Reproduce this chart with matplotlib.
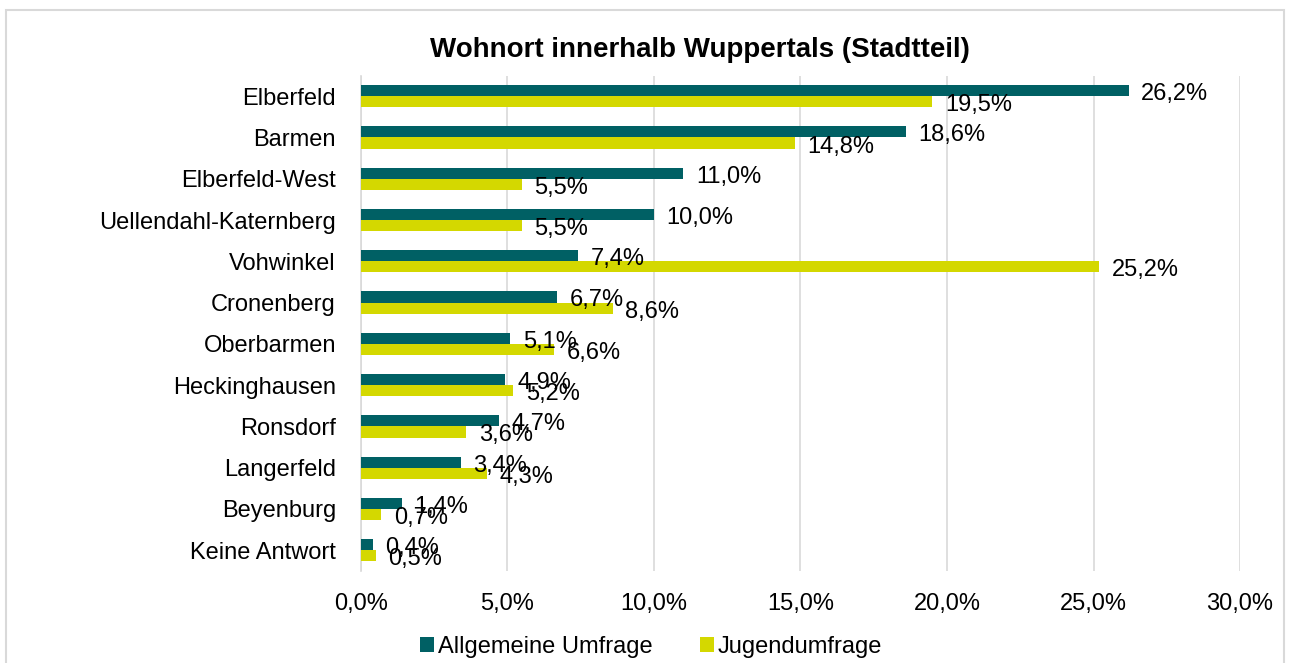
import matplotlib.pyplot as plt
import numpy as np
from matplotlib.patches import Rectangle

plt.rcParams['font.family'] = ['Liberation Sans', 'DejaVu Sans']

stadtteile = ["Elberfeld", "Barmen", "Elberfeld-West", "Uellendahl-Katernberg", "Vohwinkel",
              "Cronenberg", "Oberbarmen", "Heckinghausen", "Ronsdorf", "Langerfeld",
              "Beyenburg", "Keine Antwort"]
allgemein = [26.2, 18.6, 11.0, 10.0, 7.4, 6.7, 5.1, 4.9, 4.7, 3.4, 1.4, 0.4]
jugend = [19.5, 14.8, 5.5, 5.5, 25.2, 8.6, 6.6, 5.2, 3.6, 4.3, 0.7, 0.5]
xticks = [0, 5, 10, 15, 20, 25, 30]

teal = "#006064"
gelb = "#D4D800"
fs = 17

fig = plt.figure(figsize=(12.89, 6.63), dpi=100)
ax = fig.add_axes([0.280, 0.139, 0.682, 0.747])

y = np.arange(len(stadtteile))
h = 0.27
b1 = ax.barh(y - h / 2, allgemein, height=h, color=teal, label="Allgemeine Umfrage", zorder=3)
b2 = ax.barh(y + h / 2, jugend, height=h, color=gelb, label="Jugendumfrage", zorder=3)

def fmt(v):
    return f"{v:.1f}%".replace(".", ",")

for bars, vals in ((b1, allgemein), (b2, jugend)):
    for bar, v in zip(bars, vals):
        ax.annotate(fmt(v), (v, bar.get_y() + bar.get_height() / 2),
                    xytext=(9, -2.5), textcoords="offset points",
                    va="center", ha="left", fontsize=fs, color="#000000", zorder=4)

ax.set_yticks(y)
ax.set_yticklabels(stadtteile, fontsize=fs)
ax.set_ylim(len(stadtteile) - 0.5, -0.5)
ax.set_xlim(0, 30)
ax.set_xticks(xticks)
ax.set_xticklabels([f"{t:.1f}%".replace(".", ",") for t in xticks], fontsize=fs)
ax.tick_params(axis="x", length=0, pad=16)
ax.tick_params(axis="y", length=0, pad=18)
ax.grid(axis="x", color="#D9D9D9", linewidth=1.2, zorder=0)
for s in ["top", "right", "bottom"]:
    ax.spines[s].set_visible(False)
ax.spines["left"].set_color("#D9D9D9")
ax.spines["left"].set_linewidth(1.2)

fig.text(0.543, 0.925, "Wohnort innerhalb Wuppertals (Stadtteil)", ha="center", va="center",
         fontsize=20, fontweight="bold")

fig.legend(handles=[b1, b2], loc="center", bbox_to_anchor=(0.505, 0.024), ncol=2, frameon=False,
           fontsize=fs, handlelength=0.6, handleheight=0.6, handletextpad=0.15, columnspacing=2.0)

fig.patches.append(Rectangle((6 / 1289, -0.01), 1278 / 1289, 1 - 10 / 663 + 0.01,
                             transform=fig.transFigure, fill=False, edgecolor="#D9D9D9",
                             linewidth=1.5))

fig.savefig("out.png", dpi=100)
